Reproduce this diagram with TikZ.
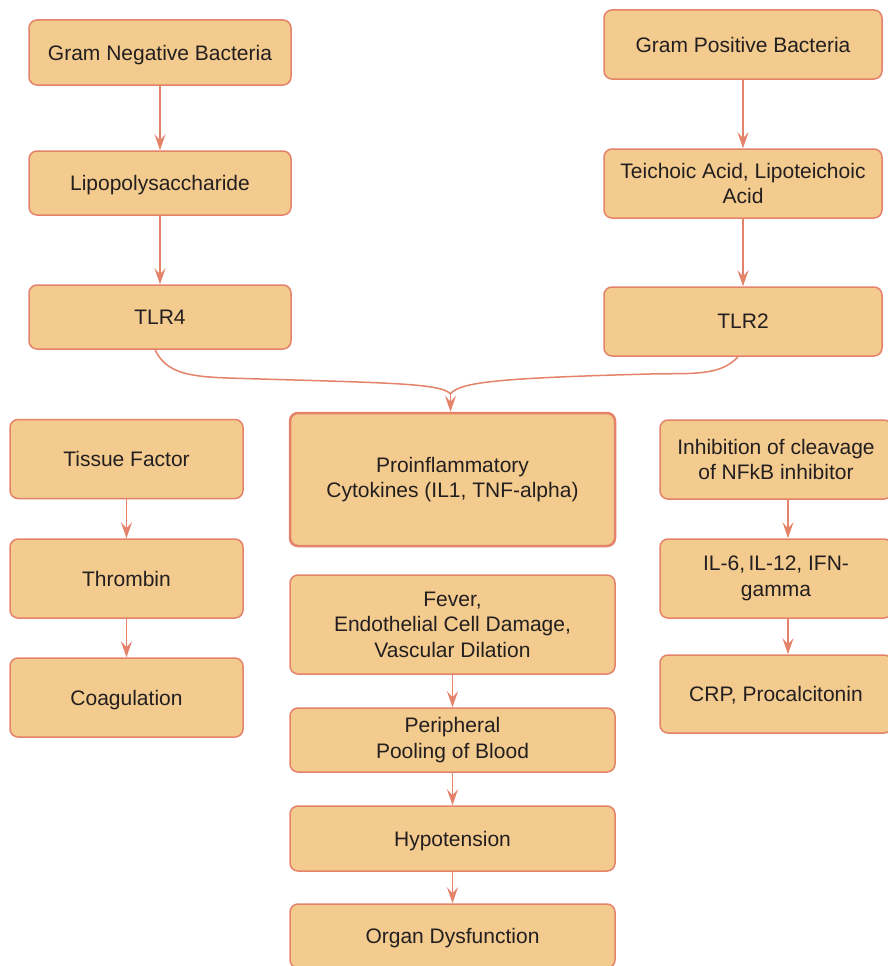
\documentclass[tikz,border=0pt]{standalone}
\usepackage{fontspec}
\setmainfont{Liberation Sans}
\usetikzlibrary{arrows.meta,calc}
\definecolor{boxfill}{HTML}{F3CB8E}
\definecolor{boxline}{HTML}{E5826A}
\definecolor{txt}{HTML}{231F20}
\begin{document}
\begin{tikzpicture}[x=1pt,y=-1pt,
  box/.style={draw=boxline, fill=boxfill, line width=1.5pt, rounded corners=8pt,
    align=center, inner sep=0pt, text=txt, font=\fontsize{21}{25.5}\selectfont},
  oneline/.style={text depth=0pt},
  arr/.style={draw=boxline, line width=1.5pt,
    -{Stealth[length=16pt,width=11pt,inset=6pt]}},
  conn/.style={draw=boxline, line width=1.5pt}]
\useasboundingbox (0,0) rectangle (888,966);
% left top column
\node[box, oneline, minimum width=262pt, minimum height=65pt] (gnb) at (160,52.5) {Gram Negative Bacteria};
\node[box, oneline, minimum width=262pt, minimum height=64pt] (lps) at (160,183) {Lipopolysaccharide};
\node[box, oneline, minimum width=262pt, minimum height=64pt] (tlr4) at (160,317) {TLR4};
% right top column
\node[box, oneline, minimum width=278pt, minimum height=69pt] (gpb) at (743,44.5) {Gram Positive Bacteria};
\node[box, minimum width=278pt, minimum height=69pt] (tei) at (743,183.5) {Teichoic Acid, Lipoteichoic\\Acid};
\node[box, oneline, minimum width=278pt, minimum height=69pt] (tlr2) at (743,321.5) {TLR2};
% left bottom column
\node[box, oneline, minimum width=233pt, minimum height=79pt] (tf) at (126.5,459) {Tissue Factor};
\node[box, oneline, minimum width=233pt, minimum height=79pt] (thr) at (126.5,578.5) {Thrombin};
\node[box, oneline, minimum width=233pt, minimum height=79pt] (coa) at (126.5,697.5) {Coagulation};
% middle column
\node[box, line width=2.5pt, minimum width=325pt, minimum height=133pt] (pro) at (452.5,479.5) {Proinflammatory\\Cytokines (IL1, TNF-alpha)};
\node[box, minimum width=325pt, minimum height=99pt] (fev) at (452.5,624.5) {Fever,\\Endothelial Cell Damage,\\Vascular Dilation};
\node[box, minimum width=325pt, minimum height=64pt] (per) at (452.5,740) {Peripheral\\Pooling of Blood};
\node[box, oneline, minimum width=325pt, minimum height=65pt] (hyp) at (452.5,838.5) {Hypotension};
\node[box, oneline, minimum width=325pt, minimum height=64pt] (org) at (452.5,936) {Organ Dysfunction};
% right bottom column
\node[box, minimum width=232pt, minimum height=79pt] (inh) at (776,459.5) {Inhibition of cleavage\\of NFkB inhibitor};
\node[box, minimum width=232pt, minimum height=79pt] (il6) at (776,578.5) {IL-6,\,IL-12, IFN-\\gamma};
\node[box, oneline, minimum width=232pt, minimum height=78pt] (crp) at (776,694) {CRP, Procalcitonin};
% arrows
\draw[arr] (gnb) -- (lps);
\draw[arr] (lps) -- (tlr4);
\draw[arr] (gpb) -- (tei);
\draw[arr] (tei) -- (tlr2);
\draw[arr] (tf) -- (thr);
\draw[arr] (thr) -- (coa);
\draw[arr] (fev) -- (per);
\draw[arr] (per) -- (hyp);
\draw[arr] (hyp) -- (org);
\draw[arr] ([xshift=12pt]inh.south) -- ([xshift=12pt]il6.north);
\draw[arr] ([xshift=12pt]il6.south) -- ([xshift=12pt]crp.north);
% merging curves
\coordinate (m) at ($(pro.north)+(-2,-18)$);
\draw[conn] ([xshift=-5pt]tlr4.south) .. controls +(14,29) and (200,377) .. (260,379)
  .. controls (400,383) and (440,384) .. (m);
\draw[conn] ([xshift=-5pt]tlr2.south) .. controls +(-18,20) and (690,373) .. (650,374)
  .. controls (500,378) and (460,382) .. (m);
\draw[arr] (m) -- ($(pro.north)+(-2,0)$);
\end{tikzpicture}
\end{document}
